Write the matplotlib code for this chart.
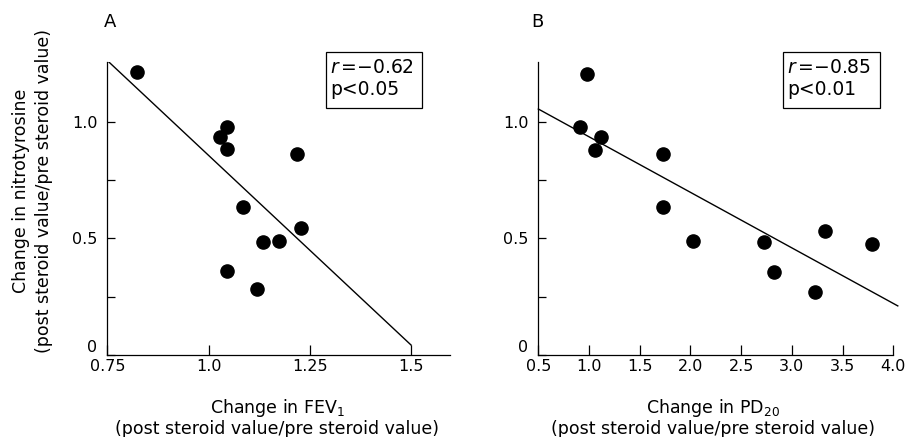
import numpy as np
import matplotlib.pyplot as plt
from matplotlib.patches import Rectangle
from matplotlib.ticker import FixedLocator, FixedFormatter

plt.rcParams['font.family'] = ['DejaVu Sans']
plt.rcParams['font.size'] = 11.5

# панель A: изменение FEV1 и нитротирозина
fev_x = [0.823, 1.028, 1.046, 1.046, 1.219, 1.084, 1.228, 1.135, 1.174, 1.045, 1.119]
fev_y = [1.212, 0.936, 0.979, 0.883, 0.863, 0.636, 0.544, 0.483, 0.488, 0.361, 0.281]
fev_fit_x = [0.75, 1.5]
fev_fit_y = [1.262, 0.042]

# панель B: изменение PD20 и нитротирозина
pd_x = [0.983, 0.911, 1.115, 1.056, 1.733, 1.733, 2.029, 2.729, 2.827, 3.330, 3.229, 3.794]
pd_y = [1.203, 0.979, 0.933, 0.880, 0.860, 0.633, 0.488, 0.483, 0.357, 0.533, 0.268, 0.476]
pd_fit_x = [0.5, 4.044]
pd_fit_y = [1.054, 0.210]

fev_ticks = [0.75, 1.0, 1.25, 1.5]
fev_labels = ['0.75', '1.0', '1.25', '1.5']
pd_ticks = [0.5, 1.0, 1.5, 2.0, 2.5, 3.0, 3.5, 4.0]
pd_labels = ['0.5', '1.0', '1.5', '2.0', '2.5', '3.0', '3.5', '4.0']
y_ticks = [0, 0.5, 1.0]
y_labels = ['0', '0.5', '1.0']
y_minor = [0.25, 0.75]

stats_a = ['$r\\,$=\u22120.62', 'p<0.05']
stats_b = ['$r\\,$=\u22120.85', 'p<0.01']

fig = plt.figure(figsize=(9.06, 4.37), dpi=100)
axA = fig.add_axes([0.1184, 0.1879, 0.3783, 0.671])
axB = fig.add_axes([0.5942, 0.1879, 0.3918, 0.671])


def style(ax, xlim, ticks, labels):
    ax.set_xlim(*xlim)
    ax.set_ylim(0, 1.257)
    for s in ['top', 'right']:
        ax.spines[s].set_visible(False)
    for s in ['left', 'bottom']:
        ax.spines[s].set_linewidth(0.9)
    ax.xaxis.set_major_locator(FixedLocator(ticks))
    ax.xaxis.set_major_formatter(FixedFormatter(labels))
    ax.yaxis.set_major_locator(FixedLocator(y_ticks))
    ax.yaxis.set_major_formatter(FixedFormatter(y_labels))
    ax.yaxis.set_minor_locator(FixedLocator(y_minor))
    ax.tick_params(axis='x', direction='in', length=7, width=0.9, pad=3, labelsize=11.5)
    ax.tick_params(axis='y', which='both', direction='in', length=6, width=0.9, pad=7, labelsize=11.5)
    # ноль на оси Y приподнят над подписями оси X
    ax.get_yticklabels()[0].set_va('bottom')


def stat_box(ax, x0, x1, lines):
    ax.add_patch(Rectangle((x0, 0.841), x1 - x0, 0.193, transform=ax.transAxes,
                           fc='white', ec='black', lw=0.9, clip_on=False, zorder=4))
    ax.text(x0 + 0.012, 0.961, lines[0], transform=ax.transAxes, ha='left',
            va='baseline', fontsize=13.5, zorder=5)
    ax.text(x0 + 0.012, 0.886, lines[1], transform=ax.transAxes, ha='left',
            va='baseline', fontsize=13.5, zorder=5)


style(axA, (0.75, 1.596), fev_ticks, fev_labels)
axA.scatter(fev_x, fev_y, s=90, color='black', zorder=3)
axA.plot(fev_fit_x, fev_fit_y, color='black', lw=1.0)
stat_box(axA, 0.638, 0.918, stats_a)

style(axB, (0.5, 4.0), pd_ticks, pd_labels)
axB.scatter(pd_x, pd_y, s=90, color='black', zorder=3)
axB.plot(pd_fit_x, pd_fit_y, color='black', lw=1.0, clip_on=False)
stat_box(axB, 0.689, 0.963, stats_b)

fig.text(0.122, 0.95, 'A', fontsize=13, ha='center', va='center')
fig.text(0.593, 0.95, 'B', fontsize=13, ha='center', va='center')

fig.text(0.036, 0.563, 'Change in nitrotyrosine\n(post steroid value/pre steroid value)',
         rotation=90, ha='center', va='center', fontsize=12.5, linespacing=1.35)
fig.text(0.306, 0.045, 'Change in FEV$_1$\n(post steroid value/pre steroid value)',
         ha='center', va='center', fontsize=12.5, linespacing=1.1)
fig.text(0.787, 0.045, 'Change in PD$_{20}$\n(post steroid value/pre steroid value)',
         ha='center', va='center', fontsize=12.5, linespacing=1.1)

fig.savefig('out.png', dpi=100)
